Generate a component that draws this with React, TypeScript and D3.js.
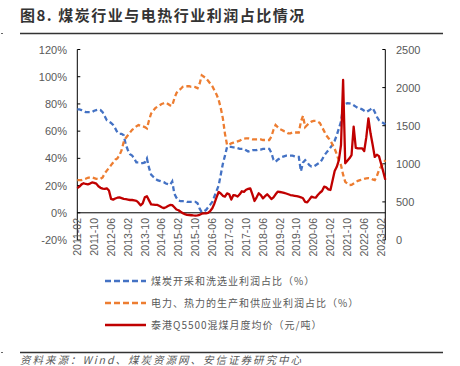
import React from "react";
import * as d3 from "d3";

const START_YEAR = 2011;
const START_MONTH = 2;
const N = 147;
const categories: string[] = Array.from({ length: N }, (_, i) => {
  const m = START_MONTH - 1 + i;
  const y = START_YEAR + Math.floor(m / 12);
  const mm = (m % 12) + 1;
  return `${y}-${mm < 10 ? "0" + mm : mm}`;
});

const coalShare: number[] = [
  76, 76, 75.5, 75, 74, 74, 74, 74, 75, 75.5,
  76, 75.5, 74, 71, 68, 67, 66, 64.5, 62, 59,
  58, 58, 57, 50, 46, 43, 42, 40, 37, 37,
  36.5, 36.5, 37, 40, 33, 28, 26.5, 25, 24, 23.5,
  23, 22.5, 21.5, 21, 20.5, 23, 14, 11, 9, 8.5,
  8.5, 8.5, 8, 8, 8, 8, 8, 7, 3, 0.5,
  1, 2, 4, 6, 8, 12, 16, 20, 28, 36,
  42, 48.5, 48.5, 48.5, 48, 48, 47.5, 47, 47, 47,
  46, 45, 45.5, 46, 46, 46, 46.5, 46.5, 47, 47,
  47, 47, 44, 39, 37.5, 39, 40, 41, 41.5, 42,
  42, 42, 42, 41.5, 41, 41, 30.5, 37, 38.7, 37,
  35, 34, 34, 35, 36, 37, 39, 42, 44, 46,
  48, 50, 53, 57, 62, 67, 78, 80, 80.5, 80.4,
  80, 79, 78, 77, 76.7, 76, 75, 74, 75, 76,
  77, 74, 70.6, 68, 67, 66, 65,
];

const powerShare: number[] = [
  24, 24, 24, 24.5, 25, 25.7, 26, 26, 25.5, 25,
  24.8, 25, 26, 29, 31, 33, 35, 37, 39, 40,
  42.4, 46, 52, 55, 57, 59, 61, 62, 63.5, 64.5,
  64, 63.5, 63, 62, 68, 73, 75, 77, 78, 79,
  80, 80.5, 81, 80, 79, 78.7, 84, 88, 90, 91,
  92.6, 93, 93, 93, 92.6, 92.6, 92.3, 91.5, 95, 101,
  100, 98.8, 97, 95, 93, 90, 87, 83, 77, 69.4,
  58, 49.8, 50, 51, 51.5, 52, 52.5, 53, 54, 54.5,
  54.7, 54.7, 54.5, 54, 54, 54, 54, 54, 53.5, 53.5,
  53.5, 53.5, 56, 61, 64.5, 63, 61.5, 60.8, 60, 59.5,
  58.4, 58.4, 59, 59, 59, 59, 67, 71.3, 63, 64.5,
  66, 67, 67.5, 67.5, 67, 66, 63, 60, 57, 55,
  53, 50, 47, 43, 38, 35, 28, 22.8, 21.5, 20.4,
  20.5, 21.5, 22.5, 23.5, 24, 24.5, 25, 25.3, 25.5, 25.3,
  24.5, 24, 27, 31.4, 34, 36, 38.7,
];

const coalPrice: number[] = [
  680, 700, 730, 745, 735, 730, 740, 755, 750, 740,
  705, 685, 675, 670, 678, 650, 540, 530, 545, 555,
  560, 550, 540, 535, 530, 525, 525, 520, 515, 490,
  455, 480, 560, 575, 520, 468, 465, 462, 460, 445,
  430, 418, 430, 445, 460, 458, 430, 400, 390, 370,
  352, 340, 330, 328, 325, 322, 320, 322, 330, 345,
  350, 350, 355, 380, 416, 480, 560, 630, 610, 580,
  570, 612, 600, 530, 590, 585, 570, 600, 640, 632,
  660, 670, 678, 600, 512, 560, 613, 590, 547, 575,
  600, 570, 538, 560, 600, 634, 630, 625, 618, 610,
  600, 590, 585, 580, 575, 568, 560, 547, 500, 495,
  530, 568, 560, 555, 590, 620, 643, 700, 690, 665,
  656, 780, 905, 960, 1050, 1247, 2100, 1006, 1040, 1072,
  1115, 1487, 1210, 1203, 1203, 1203, 1168, 1350, 1597, 1400,
  1250, 1090, 1120, 1100, 1000, 900, 790,
];

const leftTicks: number[] = [-20, 0, 20, 40, 60, 80, 100, 120];
const rightTicks: number[] = [0, 500, 1000, 1500, 2000, 2500];
const seriesNames: string[] = [
  "煤炭开采和洗选业利润占比（%）",
  "电力、热力的生产和供应业利润占比（%）",
  "泰港Q5500混煤月度均价（元/吨）",
];
const title = "图8. 煤炭行业与电热行业利润占比情况";
const source = "资料来源：Wind、煤炭资源网、安信证券研究中心";

const BLUE = "#4472C4";
const ORANGE = "#ED7D31";
const RED = "#C00000";
const GRAY = "#595959";
const CJK = "'Noto Sans CJK SC', 'Noto Sans', sans-serif";
const NUM = "'Liberation Sans', Arial, sans-serif";

export default function App() {
  const W = 460, H = 366;
  const x = d3.scalePoint<string>().domain(categories).range([77.3, 385.3]);
  const yL = d3.scaleLinear().domain([-20, 120]).range([240, 49.5]);
  const yR = d3.scaleLinear().domain([0, 2500]).range([240, 49.5]);
  const lineL = d3.line<number>().x((_, i) => x(categories[i])!).y((d) => yL(d));
  const lineR = d3.line<number>().x((_, i) => x(categories[i])!).y((d) => yR(d));
  const xTickCats = categories.filter((_, i) => i % 8 === 0);
  const x0 = 77.3, x1 = 385.3;

  return (
    <div style={{ position: "absolute", left: 0, top: 0 }}>
      <svg width={W} height={H} style={{ display: "block", background: "#fff" }}>
        <text x={20} y={21} fontFamily={CJK} fontWeight="bold" fontSize={15} fill="#333" letterSpacing={1.5}>
          {title}
        </text>
        <line x1={20} x2={443} y1={33.5} y2={33.5} stroke="#333" strokeWidth={1.3} />
        <rect x={1} y={33} width={2} height={1} fill="#666" />

        {/* left axis */}
        <line x1={x0} x2={x0} y1={yL(120)} y2={yL(-20)} stroke="#000" strokeWidth={1} />
        {leftTicks.map((t) => (
          <g key={"l" + t}>
            <line x1={x0} x2={x0 + 3} y1={yL(t)} y2={yL(t)} stroke="#000" />
            <text x={67} y={yL(t) + 4} textAnchor="end" fontFamily={NUM} fontSize={11} fill={GRAY}>
              {t + "%"}
            </text>
          </g>
        ))}
        {/* right axis */}
        <line x1={x1} x2={x1} y1={yR(2500)} y2={yR(0)} stroke="#000" strokeWidth={1} />
        {rightTicks.map((t) => (
          <g key={"r" + t}>
            <line x1={x1 - 3} x2={x1} y1={yR(t)} y2={yR(t)} stroke="#000" />
            <text x={396} y={yR(t) + 4} textAnchor="start" fontFamily={NUM} fontSize={11} fill={GRAY}>
              {t}
            </text>
          </g>
        ))}
        {/* x axis at 0% */}
        <line x1={x0} x2={x1} y1={yL(0)} y2={yL(0)} stroke="#000" strokeWidth={1} />
        {xTickCats.map((c) => (
          <text
            key={c}
            transform={`translate(${x(c)! + 3.8},218) rotate(-90)`}
            textAnchor="end"
            fontFamily={NUM}
            fontSize={10.5}
            fill={GRAY}
          >
            {c}
          </text>
        ))}

        {/* series */}
        <path d={lineL(coalShare)!} fill="none" stroke={BLUE} strokeWidth={2.3} strokeDasharray="5,3" />
        <path d={lineL(powerShare)!} fill="none" stroke={ORANGE} strokeWidth={2.3} strokeDasharray="5,3" />
        <path d={lineR(coalPrice)!} fill="none" stroke={RED} strokeWidth={2.3} strokeLinejoin="round" />

        {/* legend */}
        {seriesNames.map((n, i) => {
          const ly = 281 + i * 22;
          const col = [BLUE, ORANGE, RED][i];
          return (
            <g key={n}>
              <line x1={105} x2={146} y1={ly} y2={ly} stroke={col} strokeWidth={2.5} strokeDasharray={i < 2 ? "6,3" : undefined} />
              <text x={151} y={ly + 4} fontFamily={CJK} fontSize={10} fill={GRAY} letterSpacing={1}>
                {n}
              </text>
            </g>
          );
        })}

        <line x1={20} x2={443} y1={352.5} y2={352.5} stroke="#333" strokeWidth={1.3} />
        <rect x={1} y={352} width={2} height={1} fill="#666" />
        <text x={20} y={364} fontFamily={CJK} fontSize={10.5} fill={GRAY} fontStyle="italic" letterSpacing={2}>
          {source}
        </text>
      </svg>
    </div>
  );
}
